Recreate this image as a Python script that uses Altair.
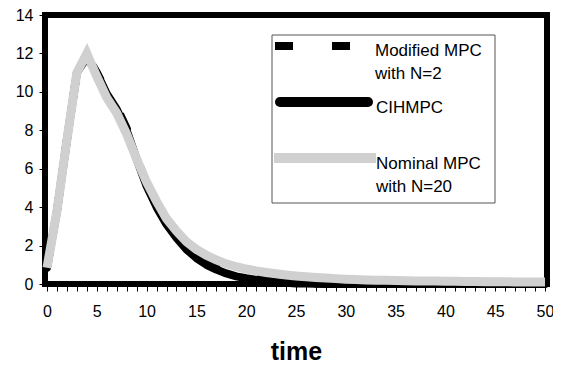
import altair as alt
import pandas as pd

time = list(range(0, 51))
nominal = [0.85, 3.8, 7.5, 11.0, 12.0, 10.8, 9.7, 8.9, 7.8, 6.5,
           5.3, 4.3, 3.4, 2.75, 2.2, 1.8, 1.5, 1.25, 1.05, 0.9,
           0.78, 0.68, 0.6, 0.53, 0.47, 0.42, 0.38, 0.34, 0.31, 0.28,
           0.25, 0.23, 0.21, 0.2, 0.19, 0.18, 0.17, 0.16, 0.15, 0.15,
           0.14, 0.14, 0.13, 0.13, 0.12, 0.12, 0.12, 0.11, 0.11, 0.11, 0.11]
cihmpc = [0.85, 3.8, 7.5, 11.0, 11.8, 11.0, 9.9, 9.1, 8.0, 6.5,
          5.1, 4.0, 3.1, 2.4, 1.8, 1.35, 1.0, 0.75, 0.55, 0.4,
          0.3, 0.22, 0.15, 0.1, 0.06, 0.03, 0.02, 0.01, 0.0, 0.0,
          0.0, 0.0, 0.0, 0.0, 0.0, 0.0, 0.0, 0.0, 0.0, 0.0,
          0.0, 0.0, 0.0, 0.0, 0.0, 0.0, 0.0, 0.0, 0.0, 0.0, 0.0]
modified = [0.85, 3.8, 7.5, 11.0, 11.9, 11.0, 10.0, 9.2, 8.1, 6.6,
            5.2, 4.15, 3.25, 2.55, 1.95, 1.5, 1.15, 0.88, 0.67, 0.5,
            0.38, 0.28, 0.2, 0.14, 0.1, 0.07, 0.05, 0.03, 0.02, 0.01,
            0.0, 0.0, 0.0, 0.0, 0.0, 0.0, 0.0, 0.0, 0.0, 0.0,
            0.0, 0.0, 0.0, 0.0, 0.0, 0.0, 0.0, 0.0, 0.0, 0.0, 0.0]
y_ticks = [0, 2, 4, 6, 8, 10, 12, 14]
x_ticks = list(range(0, 51))

df = pd.DataFrame({"time": time, "Nominal": nominal, "CIHMPC": cihmpc, "Modified": modified})

FONT = "Liberation Sans"
W, H = 502, 269

x_scale = alt.Scale(domain=[-0.2, 50.2], nice=False, zero=False)
x_axis = alt.Axis(values=x_ticks, labelExpr="datum.value % 5 === 0 ? datum.label : ''",
                  title="time", titleFontSize=25, titleFontWeight="bold", titlePadding=20,
                  labelFontSize=16, tickSize=7, labelPadding=12, labelFlush=False,
                  labelOverlap=False)
y_scale = alt.Scale(domain=[0, 14], nice=False)
y_axis = alt.Axis(values=y_ticks, title=None, labelFontSize=16, tickSize=6, labelPadding=6,
                  labelOverlap=False)

def xe():
    return alt.X("time:Q", scale=x_scale, axis=x_axis)

def ye(col):
    return alt.Y(f"{col}:Q", scale=y_scale, axis=y_axis)

base = alt.Chart(df)
l_mod = base.mark_line(color="black", strokeWidth=8, strokeDash=[18, 39]).encode(
    x=xe(), y=ye("Modified"))
l_ci = base.mark_line(color="black", strokeWidth=8, strokeCap="round", strokeJoin="round").encode(
    x=xe(), y=ye("CIHMPC"))
l_nom = base.mark_line(color="#d0d0d0", strokeWidth=9).encode(
    x=xe(), y=ye("Nominal"))

# legend (pixel positions inside the plot area)
ox, oy = 45, 15
box = alt.Chart().mark_rect(fill="white", stroke="#555555", strokeWidth=1).encode(
    x=alt.value(272 - ox), x2=alt.value(495 - ox), y=alt.value(35 - oy), y2=alt.value(203 - oy))
leg_mod = alt.Chart().mark_rule(color="black", strokeWidth=8, strokeDash=[18, 39]).encode(
    x=alt.value(275 - ox), x2=alt.value(350 - ox), y=alt.value(46 - oy))
leg_ci = alt.Chart().mark_rule(color="black", strokeWidth=10, strokeCap="round").encode(
    x=alt.value(280 - ox), x2=alt.value(368 - ox), y=alt.value(102 - oy))
leg_nom = alt.Chart().mark_rule(color="#d0d0d0", strokeWidth=10).encode(
    x=alt.value(274 - ox), x2=alt.value(376 - ox), y=alt.value(158 - oy))

def txt(s, x, y):
    return alt.Chart().mark_text(text=s, align="left", baseline="middle", fontSize=17, font=FONT,
                                 color="black").encode(x=alt.value(x - ox), y=alt.value(y - oy))

texts = [txt("Modified MPC", 375, 51), txt("with N=2", 375, 74), txt("CIHMPC", 376, 108),
         txt("Nominal MPC", 376, 164), txt("with N=20", 376, 187)]

chart = alt.layer(l_mod, l_ci, l_nom, box, leg_mod, leg_ci, leg_nom, *texts).properties(
    width=W, height=H, autosize=alt.AutoSizeParams(type="none"),
    padding={"left": ox - 8, "top": oy - 8, "right": 6, "bottom": 372 - 16 - oy + 8 - H},
    background="white"
).configure_view(stroke="black", strokeWidth=6).configure_axis(
    domain=False, grid=False, tickColor="black", labelColor="black", titleColor="black",
    labelFont=FONT, titleFont=FONT, labelOverlap=False
)

chart.save("out.html", embed_options={"renderer": "svg", "actions": False})
